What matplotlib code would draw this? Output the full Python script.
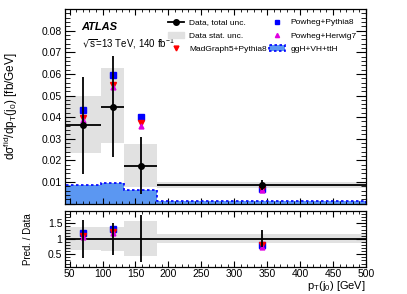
import matplotlib
matplotlib.use('Agg')
import matplotlib.pyplot as plt
import numpy as np
from matplotlib.patches import Patch
from matplotlib.lines import Line2D
from matplotlib.ticker import MultipleLocator, FuncFormatter

plt.rcParams['font.family'] = ['Liberation Sans', 'DejaVu Sans']
plt.rcParams['mathtext.default'] = 'regular'

# bin edges (GeV) and centres
edges = np.array([43, 98, 133, 183, 500])
centres = np.array([70.5, 115.5, 158, 341.5])

# data with total and stat uncertainties
data = np.array([0.0364, 0.0449, 0.0175, 0.0085])
tot_up = np.array([0.0588, 0.0683, 0.0310, 0.0109])
tot_dn = np.array([0.0137, 0.0217, 0.0044, 0.0063])
stat_up = np.array([0.0498, 0.0626, 0.0276, 0.0099])
stat_dn = np.array([0.0236, 0.0279, 0.0078, 0.0073])

# predictions
powheg_py8 = np.array([0.0435, 0.0595, 0.0400, 0.0068])
powheg_hw7 = np.array([0.0388, 0.0540, 0.0360, 0.0062])
madgraph = np.array([0.0395, 0.0550, 0.0375, 0.0067])
ggh_vh_tth = np.array([0.0086, 0.0094, 0.0063, 0.0012])

fig = plt.figure(figsize=(4.07, 2.94), dpi=100)
ax = fig.add_axes([0.1597, 0.3075, 0.7396, 0.6602])
rx = fig.add_axes([0.1597, 0.0929, 0.7396, 0.1895])

gray = '#e1e1e1'
blue_fill = '#5b97f2'

# ---- main panel
ax.stairs(ggh_vh_tth, edges, fill=True, color=blue_fill, zorder=1)
ax.stairs(ggh_vh_tth, edges, color='#0000ff', ls=(0, (1.5, 1.5)), lw=1.2, zorder=2)
for i in range(4):
    ax.fill_between([edges[i], edges[i+1]], stat_dn[i], stat_up[i], color=gray, lw=0, zorder=0)

ax.errorbar(centres, data, xerr=[centres - edges[:-1], edges[1:] - centres],
            yerr=[data - tot_dn, tot_up - data], fmt='o', color='black',
            ms=4, lw=1.3, capsize=0, zorder=5)
ax.plot(centres, powheg_py8, 's', color='#0000ff', ms=4, zorder=4)
ax.plot(centres, madgraph, 'v', color='#ff0000', ms=4, zorder=4)
ax.plot(centres, powheg_hw7, '^', color='#e000e0', ms=3.5, zorder=4)

ax.set_xlim(43, 500)
ax.set_ylim(0, 0.0898)
ax.yaxis.set_major_locator(MultipleLocator(0.01))
ax.yaxis.set_minor_locator(MultipleLocator(0.002))
ax.yaxis.set_major_formatter(FuncFormatter(lambda v, p: '' if v < 1e-9 else '%.2f' % v))
ax.xaxis.set_major_locator(MultipleLocator(50))
ax.xaxis.set_minor_locator(MultipleLocator(10))
ax.tick_params(axis='x', labelbottom=False)
ax.set_ylabel(r'd$\sigma^{fid}$/dp$_T$(j$_0$) [fb/GeV]', fontsize=8.5, labelpad=4)

ax.text(0.055, 0.895, 'ATLAS', transform=ax.transAxes, fontsize=8,
        fontweight='bold', fontstyle='italic')
ax.text(0.055, 0.805, r'$\sqrt{s}$=13 TeV, 140 fb$^{-1}$', transform=ax.transAxes, fontsize=7)

handles = [
    Line2D([], [], color='black', marker='o', ms=4, lw=1.3),
    Patch(color=gray),
    Line2D([], [], color='#ff0000', marker='v', ms=3.5, lw=0),
    Line2D([], [], color='#0000ff', marker='s', ms=3.5, lw=0),
    Line2D([], [], color='#e000e0', marker='^', ms=3, lw=0),
    Patch(facecolor=blue_fill, edgecolor='#0000ff', ls=(0, (1.5, 1.5)), lw=1.2),
]
labels = ['Data, total unc.', 'Data stat. unc.', 'MadGraph5+Pythia8',
          'Powheg+Pythia8', 'Powheg+Herwig7', 'ggH+VH+ttH']
ax.legend(handles, labels, ncol=2, frameon=False, fontsize=6, loc='upper left',
          bbox_to_anchor=(0.33, 0.97), handlelength=2.0, handletextpad=0.6,
          labelspacing=0.65, columnspacing=0.2, borderaxespad=0)

# ---- ratio panel
r_up = tot_up / data
r_dn = tot_dn / data
rs_up = stat_up / data
rs_dn = stat_dn / data
for i in range(4):
    rx.fill_between([edges[i], edges[i+1]], rs_dn[i], rs_up[i], color=gray, lw=0, zorder=0)
rx.axhline(1, color='black', lw=1.3, zorder=2)
rx.vlines(centres, r_dn, r_up, color='black', lw=1.3, zorder=5)
rx.plot(centres, powheg_py8 / data, 's', color='#0000ff', ms=4, zorder=4)
rx.plot(centres, madgraph / data, 'v', color='#ff0000', ms=4, zorder=4)
rx.plot(centres, powheg_hw7 / data, '^', color='#e000e0', ms=3.5, zorder=4)

rx.set_xlim(43, 500)
rx.set_ylim(0.1, 1.9)
rx.yaxis.set_major_locator(MultipleLocator(0.5))
rx.yaxis.set_minor_locator(MultipleLocator(0.1))
rx.yaxis.set_major_formatter(FuncFormatter(lambda v, p: '%g' % v))
rx.xaxis.set_major_locator(MultipleLocator(50))
rx.xaxis.set_minor_locator(MultipleLocator(10))
rx.set_ylabel('Pred. / Data', fontsize=7, labelpad=6)
rx.set_xlabel(r'p$_T$(j$_0$) [GeV]', fontsize=8, loc='right', labelpad=-0.5)

for a in (ax, rx):
    a.tick_params(which='both', direction='in', top=True, right=True, labelsize=7.5, pad=2)
    a.tick_params(axis='y', which='major', length=7)
    a.tick_params(axis='y', which='minor', length=3.5)
    a.tick_params(axis='x', which='major', length=4)
    a.tick_params(axis='x', which='minor', length=2)
    for s in a.spines.values():
        s.set_linewidth(0.9)

ax.yaxis.set_label_coords(-0.15, 0.5)
rx.yaxis.set_label_coords(-0.105, 0.5)

fig.savefig('out.png', dpi=100)
